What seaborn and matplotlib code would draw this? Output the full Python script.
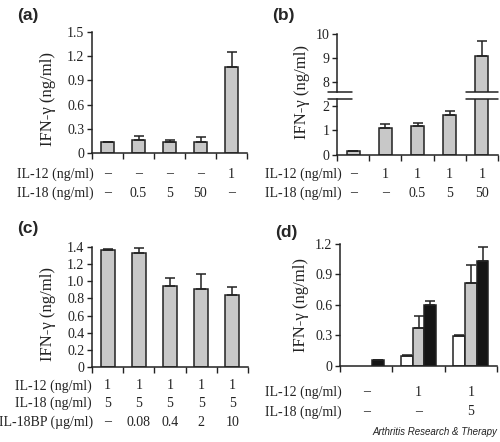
import numpy as np
import pandas as pd
import seaborn as sns
import matplotlib.pyplot as plt
from matplotlib import transforms

# values
a_vals = [0.135, 0.16, 0.138, 0.138, 1.06]
a_err = [0.0, 0.055, 0.022, 0.055, 0.19]
a_ticks = [0, 0.3, 0.6, 0.9, 1.2, 1.5]
a_ticklabels = ['0', '0.3', '0.6', '0.9', '1.2', '1.5']
a_rows = {'IL-12 (ng/ml)': ['–', '–', '–', '–', '1'],
          'IL-18 (ng/ml)': ['–', '0.5', '5', '50', '–']}

b_vals = [0.16, 1.1, 1.19, 1.63, 9.08]
b_err = [0.0, 0.14, 0.12, 0.15, 0.62]
b_low_ticks = [0, 1, 2]
b_high_ticks = [8, 9, 10]
b_rows = {'IL-12 (ng/ml)': ['–', '1', '1', '1', '1'],
          'IL-18 (ng/ml)': ['–', '–', '0.5', '5', '50']}

c_vals = [1.37, 1.325, 0.945, 0.905, 0.845]
c_err = [0.006, 0.065, 0.09, 0.175, 0.085]
c_ticks = [0, 0.2, 0.4, 0.6, 0.8, 1.0, 1.2, 1.4]
c_ticklabels = ['0', '0.2', '0.4', '0.6', '0.8', '1.0', '1.2', '1.4']
c_rows = {'IL-12 (ng/ml)': ['1', '1', '1', '1', '1'],
          'IL-18 (ng/ml)': ['5', '5', '5', '5', '5'],
          'IL-18BP (µg/ml)': ['–', '0.08', '0.4', '2', '10']}

d_groups = ['g1', 'g2', 'g3']
d_conds = ['c1', 'c2', 'c3']
d_white = [np.nan, 0.098, 0.298]
d_gray = [np.nan, 0.378, 0.815]
d_black = [0.059, 0.602, 1.028]
d_white_err = [0.0, 0.006, 0.006]
d_gray_err = [0.0, 0.115, 0.18]
d_black_err = [0.0, 0.035, 0.138]
d_ticks = [0, 0.3, 0.6, 0.9, 1.2]
d_ticklabels = ['0', '0.3', '0.6', '0.9', '1.2']
d_rows = {'IL-12 (ng/ml)': ['–', '1', '1'],
          'IL-18 (ng/ml)': ['–', '–', '5']}

GRAY = '#c8c8c8'
INK = '#222222'

sns.set_style('ticks')
plt.rcParams['font.family'] = ['Liberation Serif', 'DejaVu Serif']
plt.rcParams['axes.edgecolor'] = INK
plt.rcParams['axes.linewidth'] = 1.1
plt.rcParams['xtick.color'] = INK
plt.rcParams['ytick.color'] = INK

fig = plt.figure(figsize=(5, 4.42), dpi=100)


def style_axis(ax, n, ticks, labels, top=None):
    sns.despine(ax=ax)
    ax.set_xlim(-0.5, n - 0.5)
    ax.set_xticks(np.arange(n + 1) - 0.5)
    ax.set_xticklabels([])
    ax.tick_params(axis='x', length=4, width=1)
    ax.tick_params(axis='y', length=3.5, width=1, labelsize=10, pad=2,
                   labelcolor=INK)
    ax.set_yticks(ticks, labels)
    ax.set_ylim(0, top if top is not None else ticks[-1])
    ax.set_xlabel('')


def bars(ax, vals, err, width):
    sns.barplot(x=list(range(len(vals))), y=vals, color=GRAY, width=width,
                edgecolor=INK, linewidth=1.1, errorbar=None, ax=ax,
                saturation=1)
    x = np.arange(len(vals))
    ax.errorbar(x, vals, yerr=[np.zeros(len(vals)), err], fmt='none',
                ecolor=INK, elinewidth=1.1, capsize=3.5, capthick=1.1)


def rows(ax, table, ys, label_x):
    tr = transforms.blended_transform_factory(ax.transData, fig.transFigure)
    for (name, vals), y, lx in zip(table.items(), ys, label_x):
        fig.text(lx, y, name, ha='left', va='center', fontsize=10, color=INK)
        for i, v in enumerate(vals):
            ax.text(i, y, v, transform=tr, ha='center', va='center',
                    fontsize=10, color=INK)


def letter(x, y, s):
    fig.text(x, y, s, fontsize=12.5, fontweight='bold',
             family='Liberation Sans', ha='left', va='center')


# (a)
ax_a = fig.add_axes([0.184, 0.6538, 0.31, 0.2738])
bars(ax_a, a_vals, a_err, 0.45)
style_axis(ax_a, len(a_vals), a_ticks, a_ticklabels)
ax_a.set_ylabel('IFN-γ (ng/ml)', fontsize=12, color=INK)
ax_a.yaxis.set_label_coords(-0.235, 0.45)
rows(ax_a, a_rows, [0.6063, 0.5633], [0.034, 0.034])
letter(0.034, 0.966, '(a)')

# (b) broken axis
ax_bl = fig.add_axes([0.674, 0.6493, 0.322, 0.1267])
ax_bh = fig.add_axes([0.674, 0.7925, 0.322, 0.1306])
for ax in (ax_bl, ax_bh):
    bars(ax, b_vals, b_err, 0.4)
style_axis(ax_bl, len(b_vals), b_low_ticks, ['0', '1', '2'], top=2.27)
style_axis(ax_bh, len(b_vals), b_high_ticks, ['8', '9', '10'])
ax_bh.set_ylim(7.58, 10)
ax_bh.spines['bottom'].set_visible(False)
ax_bh.tick_params(axis='x', length=0)
n_b = len(b_vals)
for ax, yy in ((ax_bl, 1.0), (ax_bh, 0.0)):
    t = ax.get_xaxis_transform()
    ax.plot([-0.78, -0.02], [yy, yy], transform=t, color=INK, lw=1.1,
            clip_on=False)
    ax.plot([n_b - 1.48, n_b - 0.5], [yy, yy], transform=t, color=INK,
            lw=1.1, clip_on=False)
fig.text(0.604, 0.792, 'IFN-γ (ng/ml)', rotation=90, ha='center',
         va='center', fontsize=12, color=INK)
rows(ax_bl, b_rows, [0.6063, 0.5633], [0.53, 0.53])
letter(0.544, 0.966, '(b)')

# (c)
ax_c = fig.add_axes([0.184, 0.1697, 0.312, 0.2715])
bars(ax_c, c_vals, c_err, 0.45)
style_axis(ax_c, len(c_vals), c_ticks, c_ticklabels)
ax_c.set_ylabel('IFN-γ (ng/ml)', fontsize=12, color=INK)
ax_c.yaxis.set_label_coords(-0.231, 0.44)
rows(ax_c, c_rows, [0.1267, 0.0882, 0.0452], [0.03, 0.03, -0.002])
letter(0.034, 0.482, '(c)')

# (d) grouped bars
df_d = pd.DataFrame({
    'group': np.repeat(d_groups, len(d_conds)),
    'cond': d_conds * len(d_groups),
    'value': np.column_stack([d_white, d_gray, d_black]).ravel(),
    'err': np.column_stack([d_white_err, d_gray_err, d_black_err]).ravel(),
}).dropna()
ax_d = fig.add_axes([0.68, 0.172, 0.314, 0.276])
sns.barplot(data=df_d, x='group', y='value', hue='cond', order=d_groups,
            hue_order=d_conds, palette=['white', GRAY, '#151515'],
            width=0.67, gap=0, edgecolor=INK, linewidth=1.1, errorbar=None,
            legend=False, saturation=1, ax=ax_d)
w = 0.67 / len(d_conds)
xpos = (df_d['group'].map(d_groups.index)
        + (df_d['cond'].map(d_conds.index) - 1) * w)
ax_d.errorbar(xpos, df_d['value'], yerr=[np.zeros(len(df_d)), df_d['err']],
              fmt='none', ecolor=INK, elinewidth=1.1, capsize=3.5,
              capthick=1.1)
style_axis(ax_d, len(d_groups), d_ticks, d_ticklabels)
ax_d.set_ylabel('IFN-γ (ng/ml)', fontsize=12, color=INK)
ax_d.yaxis.set_label_coords(-0.197, 0.5)
rows(ax_d, d_rows, [0.1131, 0.0679], [0.53, 0.53])
letter(0.55, 0.473, '(d)')

fig.text(0.994, 0.0226, 'Arthritis Research & Therapy', ha='right',
         va='center', fontsize=7, style='italic', family='Liberation Sans',
         color=INK)

fig.savefig('out.png', dpi=100)
